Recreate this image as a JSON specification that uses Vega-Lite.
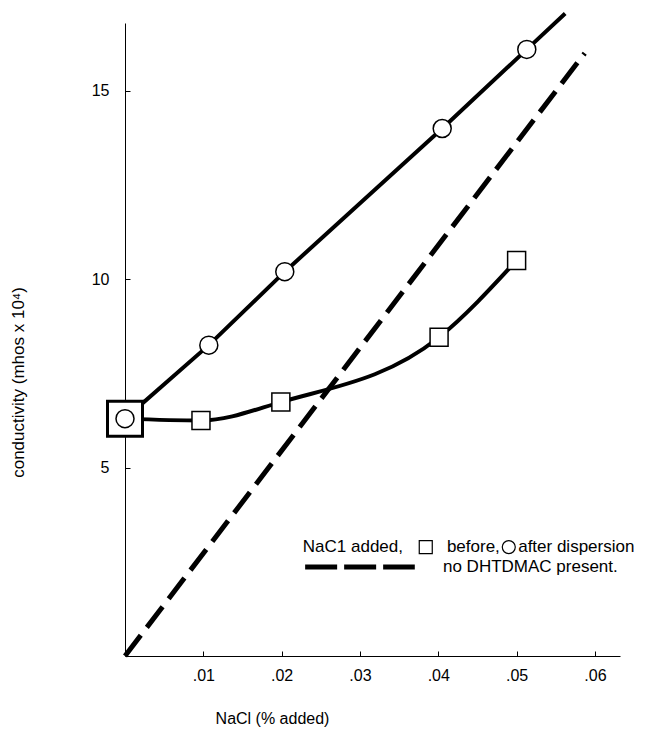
{
  "$schema": "https://vega.github.io/schema/vega-lite/v6.json",
  "width": 495,
  "height": 633,
  "autosize": {"type": "none"},
  "padding": {"left": 125, "top": 23, "right": 42, "bottom": 86},
  "background": "white",
  "config": {
    "view": {"stroke": null},
    "font": "Liberation Sans",
    "axis": {
      "grid": false,
      "domainColor": "black",
      "domainWidth": 1,
      "tickColor": "black",
      "tickWidth": 1,
      "tickSize": -5,
      "labelColor": "black",
      "labelFont": "Liberation Sans",
      "labelFontSize": 16,
      "titleColor": "black",
      "titleFont": "Liberation Sans",
      "titleFontSize": 16,
      "titleFontWeight": "normal"
    }
  },
  "datasets": {
    "after": [
      {"nacl": 0, "conductivity": 6.3, "measured": true},
      {"nacl": 0.0107, "conductivity": 8.25, "measured": true},
      {"nacl": 0.0204, "conductivity": 10.2, "measured": true},
      {"nacl": 0.0405, "conductivity": 14.0, "measured": true},
      {"nacl": 0.0513, "conductivity": 16.1, "measured": true},
      {"nacl": 0.0562, "conductivity": 17.05, "measured": false}
    ],
    "before": [
      {"nacl": 0, "conductivity": 6.3},
      {"nacl": 0.0097, "conductivity": 6.25},
      {"nacl": 0.0199, "conductivity": 6.74},
      {"nacl": 0.0401, "conductivity": 8.46},
      {"nacl": 0.05, "conductivity": 10.5}
    ],
    "nodhtdmac": [
      {"nacl": 0, "conductivity": 0},
      {"nacl": 0.0587, "conductivity": 16.0}
    ],
    "legendText": [
      {"nacl": 0.0227, "conductivity": 2.89, "label": "NaC1 added,"},
      {"nacl": 0.0411, "conductivity": 2.89, "label": "before,"},
      {"nacl": 0.0502, "conductivity": 2.89, "label": "after dispersion"},
      {"nacl": 0.0406, "conductivity": 2.36, "label": "no DHTDMAC present."}
    ],
    "legendSymbols": [
      {"nacl": 0.0384, "conductivity": 2.89, "series": "before"},
      {"nacl": 0.049, "conductivity": 2.89, "series": "after"}
    ],
    "legendDash": [
      {"nacl": 0.023, "nacl2": 0.037, "conductivity": 2.36}
    ]
  },
  "encoding": {
    "x": {
      "field": "nacl",
      "type": "quantitative",
      "scale": {"domain": [0, 0.0632], "nice": false, "zero": true},
      "axis": {
        "values": [0.01, 0.02, 0.03, 0.04, 0.05, 0.06],
        "labelExpr": "replace(format(datum.value, '.2f'), '0.', '.')",
        "labelPadding": 16,
        "title": "NaCl (% added)",
        "titleX": 147,
        "titleY": 62,
        "titleAlign": "center",
        "titleBaseline": "middle"
      }
    },
    "y": {
      "field": "conductivity",
      "type": "quantitative",
      "scale": {"domain": [0, 16.8], "nice": false, "zero": true},
      "axis": {
        "values": [5, 10, 15],
        "labelPadding": 21,
        "title": "conductivity (mhos x 10⁴)",
        "titleFontSize": 17,
        "titleX": -107,
        "titleY": 359,
        "titleAngle": -90,
        "titleAlign": "center",
        "titleBaseline": "middle"
      }
    }
  },
  "layer": [
    {
      "data": {"name": "nodhtdmac"},
      "mark": {"type": "line", "color": "black", "strokeWidth": 5, "strokeDash": [26, 10], "strokeCap": "butt"}
    },
    {
      "data": {"name": "after"},
      "mark": {"type": "line", "color": "black", "strokeWidth": 4}
    },
    {
      "data": {"name": "before"},
      "mark": {"type": "line", "color": "black", "strokeWidth": 4, "interpolate": "monotone"}
    },
    {
      "data": {"name": "before"},
      "transform": [{"filter": "datum.nacl == 0"}],
      "mark": {"type": "point", "shape": "square", "size": 1225, "filled": true, "fill": "white", "stroke": "black", "strokeWidth": 3, "opacity": 1}
    },
    {
      "data": {"name": "before"},
      "transform": [{"filter": "datum.nacl > 0"}],
      "mark": {"type": "point", "shape": "square", "size": 324, "filled": true, "fill": "white", "stroke": "black", "strokeWidth": 1.5, "opacity": 1}
    },
    {
      "data": {"name": "after"},
      "transform": [{"filter": "datum.measured"}],
      "mark": {"type": "point", "shape": "circle", "size": 324, "filled": true, "fill": "white", "stroke": "black", "strokeWidth": 1.5, "opacity": 1}
    },
    {
      "data": {"name": "legendText"},
      "mark": {"type": "text", "align": "left", "baseline": "middle", "fontSize": 17, "font": "Liberation Sans", "color": "black"},
      "encoding": {"text": {"field": "label"}}
    },
    {
      "data": {"name": "legendSymbols"},
      "mark": {"type": "point", "size": 169, "filled": true, "fill": "white", "stroke": "black", "strokeWidth": 1.2, "opacity": 1},
      "encoding": {
        "shape": {"field": "series", "type": "nominal", "scale": {"domain": ["before", "after"], "range": ["square", "circle"]}, "legend": null}
      }
    },
    {
      "data": {"name": "legendDash"},
      "mark": {"type": "rule", "color": "black", "strokeWidth": 5, "strokeDash": [32, 7], "strokeCap": "butt"},
      "encoding": {"x2": {"field": "nacl2"}}
    }
  ]
}
